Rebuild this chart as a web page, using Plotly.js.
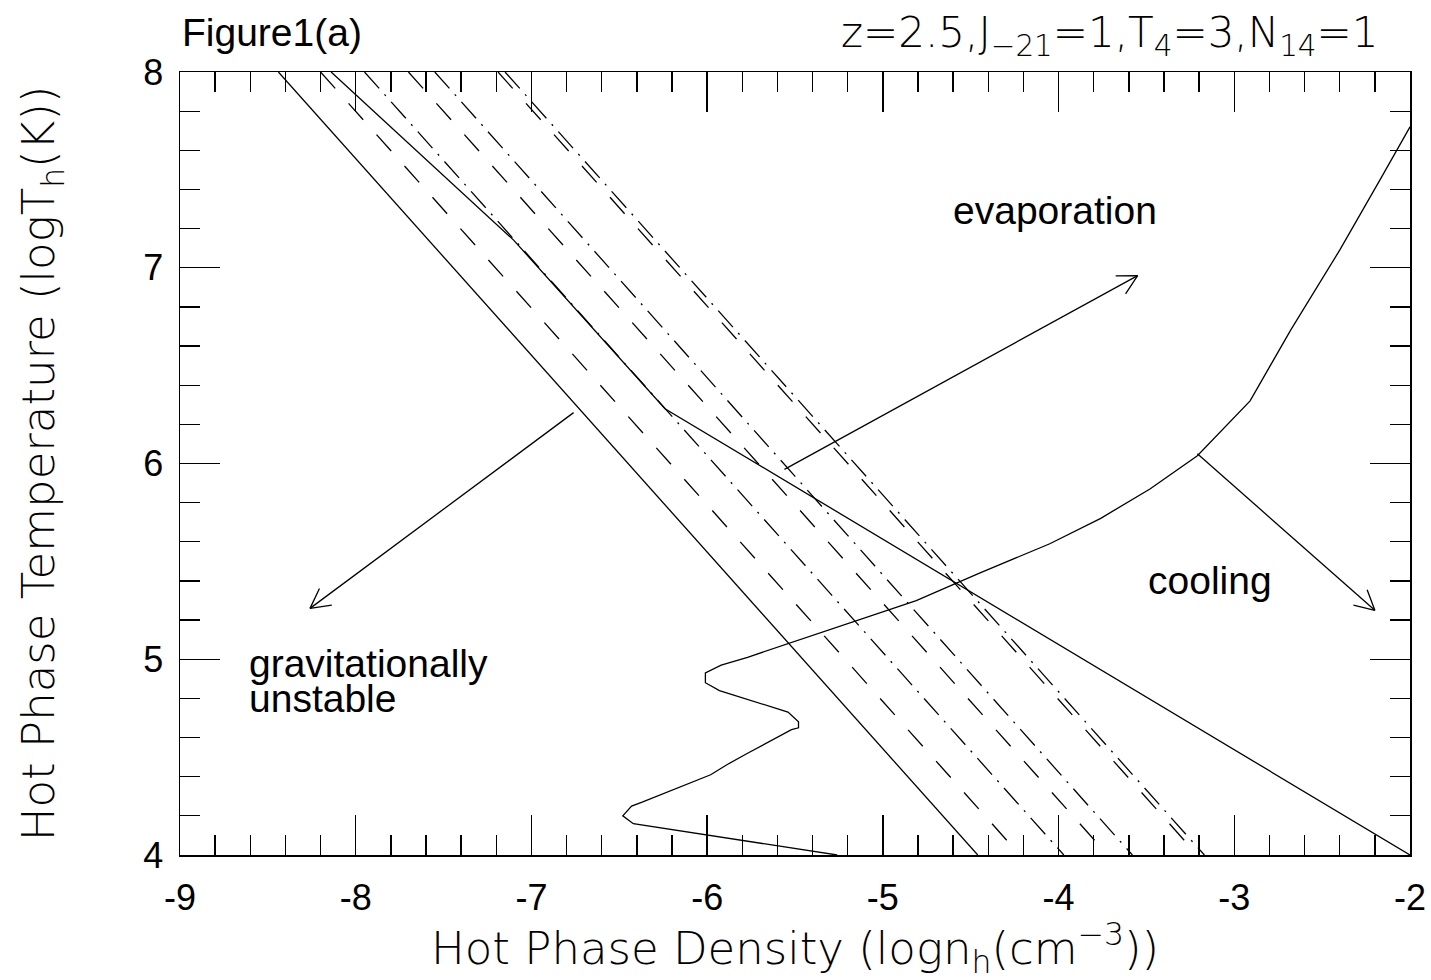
<!DOCTYPE html>
<html>
<head>
<meta charset="utf-8">
<script src="https://cdn.plot.ly/plotly-3.0.1.min.js"></script>
<style>html,body{margin:0;padding:0;background:#fff}#chart{width:1431px;height:980px}</style>
</head>
<body>
<div id="chart"></div>
<script>
// ---- data (log n_h, log T_h) ----
const edgeT = [8, 4];                       // top / bottom of the parallel lines
const instabLine = [-8.44, -4.46];           // solid (leftmost)
const dashA = [-8.20, -4.22];
const dashB = [-7.70, -3.72];
const dashC = [-7.19, -3.21];
const dotdashA = [-7.95, -3.97];
const dotdashB = [-7.55, -3.58];
const dotdashC = [-7.15, -3.17];

const brokenX = [-8.14, -7.10, -6.24, -2.00];
const brokenY = [8.00, 7.14, 6.28, 4.00];

const coolX = [-5.26, -6.42, -6.48, -6.43, -6.37, -5.98, -5.89, -5.77, -5.52, -5.48, -5.48, -5.54, -5.93, -6.01, -6.01, -5.92, -5.77, -5.47, -4.81, -4.45, -4.05, -3.76, -3.48, -3.21, -2.91, -2.68, -2.40, -2.17, -2.00];
const coolY = [4.00, 4.16, 4.20, 4.25, 4.27, 4.41, 4.46, 4.52, 4.64, 4.65, 4.68, 4.73, 4.84, 4.88, 4.93, 4.97, 5.01, 5.10, 5.30, 5.44, 5.59, 5.72, 5.87, 6.04, 6.32, 6.68, 7.09, 7.45, 7.72];

const arrowFromX = [-6.76, -5.56, -3.21];
const arrowFromY = [6.26, 5.97, 6.05];
const arrowToX = [-8.26, -3.55, -2.20];
const arrowToY = [5.26, 6.96, 5.25];

const labelText = ['evaporation', 'cooling', 'gravitationally', 'unstable'];
const labelX = [-4.61, -3.50, -8.62, -8.62];
const labelY = [7.29, 5.40, 4.98, 4.80];

const xTickVals = [-9, -8, -7, -6, -5, -4, -3, -2];
const xTickText = ['-9', '-8', '-7', '-6', '-5', '-4', '-3', '-2'];
const yTickVals = [4, 5, 6, 7, 8];
const yTickText = ['4', '5', '6', '7', '8'];

// ---- layout geometry ----
const W = 1431, H = 980;
const M = {l: 180, r: 21, t: 72, b: 125};
const xRange = [-9, -2], yRange = [4, 8];
const pxX = (W - M.l - M.r) / (xRange[1] - xRange[0]);
const pxY = (H - M.t - M.b) / (yRange[1] - yRange[0]);

const LW = 1.3;
function lineTrace(x, y, dash) {
  return {x: x, y: y, type: 'scatter', mode: 'lines', hoverinfo: 'skip',
          line: {color: '#000', width: LW, dash: dash || 'solid'}};
}

const traces = [
  lineTrace(instabLine, edgeT),
  lineTrace(dashA, edgeT, '22px,20px'),
  lineTrace(dashB, edgeT, '22px,20px'),
  lineTrace(dashC, edgeT, '22px,20px'),
  lineTrace(dotdashA, edgeT, '22px,8px,2px,8px'),
  lineTrace(dotdashB, edgeT, '22px,8px,2px,8px'),
  lineTrace(dotdashC, edgeT, '22px,8px,2px,8px'),
  lineTrace(brokenX, brokenY),
  lineTrace(coolX, coolY)
];

// open V arrow heads built from the arrow end points
const ax = [], ay = [];
const headLen = 22, headAng = 28 * Math.PI / 180;
for (let i = 0; i < arrowFromX.length; i++) {
  const x0 = arrowFromX[i], y0 = arrowFromY[i], x1 = arrowToX[i], y1 = arrowToY[i];
  const dx = (x1 - x0) * pxX, dy = (y1 - y0) * pxY;
  const L = Math.hypot(dx, dy);
  const bx = -dx / L, by = -dy / L;
  const w = [headAng, -headAng].map(a => [
    (bx * Math.cos(a) - by * Math.sin(a)) * headLen,
    (bx * Math.sin(a) + by * Math.cos(a)) * headLen]);
  ax.push(x0, x1, null, x1 + w[0][0] / pxX, x1, x1 + w[1][0] / pxX, null);
  ay.push(y0, y1, null, y1 + w[0][1] / pxY, y1, y1 + w[1][1] / pxY, null);
}
traces.push(lineTrace(ax, ay));

const txtFont = {family: 'Liberation Sans, Arial, sans-serif', size: 39, color: '#000'};
const hersheyFont = {family: 'DejaVu Sans, sans-serif', size: 45, weight: 300, color: '#000'};
const hersheySmall = {family: 'DejaVu Sans, sans-serif', size: 42, weight: 300, color: '#000'};

const annotations = labelText.map((t, i) => ({
  text: t, x: labelX[i], y: labelY[i], xref: 'x', yref: 'y',
  xanchor: 'left', yanchor: 'middle', showarrow: false, font: txtFont
}));
annotations.push({text: 'Figure1(a)', xref: 'paper', yref: 'paper', x: 0, y: 1.05,
  xanchor: 'left', yanchor: 'middle', showarrow: false, font: txtFont});
annotations.push({text: 'z=2.5,J<sub>−21</sub>=1,T<sub>4</sub>=3,N<sub>14</sub>=1',
  xref: 'paper', yref: 'paper', x: 0.9756, y: 1.047, xanchor: 'right', yanchor: 'middle',
  showarrow: false, font: hersheySmall});

const axisCommon = {
  showgrid: false, zeroline: false, showline: true, linecolor: '#000', linewidth: 1.5,
  mirror: 'ticks', ticks: 'inside', ticklen: 40, tickwidth: 1.3, tickcolor: '#000',
  tickmode: 'array', automargin: false,
  tickfont: {family: 'Liberation Sans, Arial, sans-serif', size: 36, color: '#000'},
  minor: {dtick: 0.2, ticks: 'inside', ticklen: 20, tickwidth: 1.3, tickcolor: '#000', showgrid: false}
};

const layout = {
  width: W, height: H, margin: M, showlegend: false,
  paper_bgcolor: '#fff', plot_bgcolor: '#fff',
  xaxis: Object.assign({}, axisCommon, {
    range: xRange, tickvals: xTickVals, ticktext: xTickText, ticklabelstandoff: 10,
    title: {text: 'Hot Phase Density (logn<sub>h</sub>(cm<sup>−3</sup>))', font: hersheyFont, standoff: 18}
  }),
  yaxis: Object.assign({}, axisCommon, {
    range: yRange, tickvals: yTickVals, ticktext: yTickText, ticklabelstandoff: 8,
    title: {text: 'Hot Phase Temperature (logT<sub>h</sub>(K))', font: hersheyFont, standoff: 74}
  }),
  annotations: annotations
};

Plotly.newPlot('chart', traces, layout, {staticPlot: true, displayModeBar: false});
</script>
</body>
</html>
